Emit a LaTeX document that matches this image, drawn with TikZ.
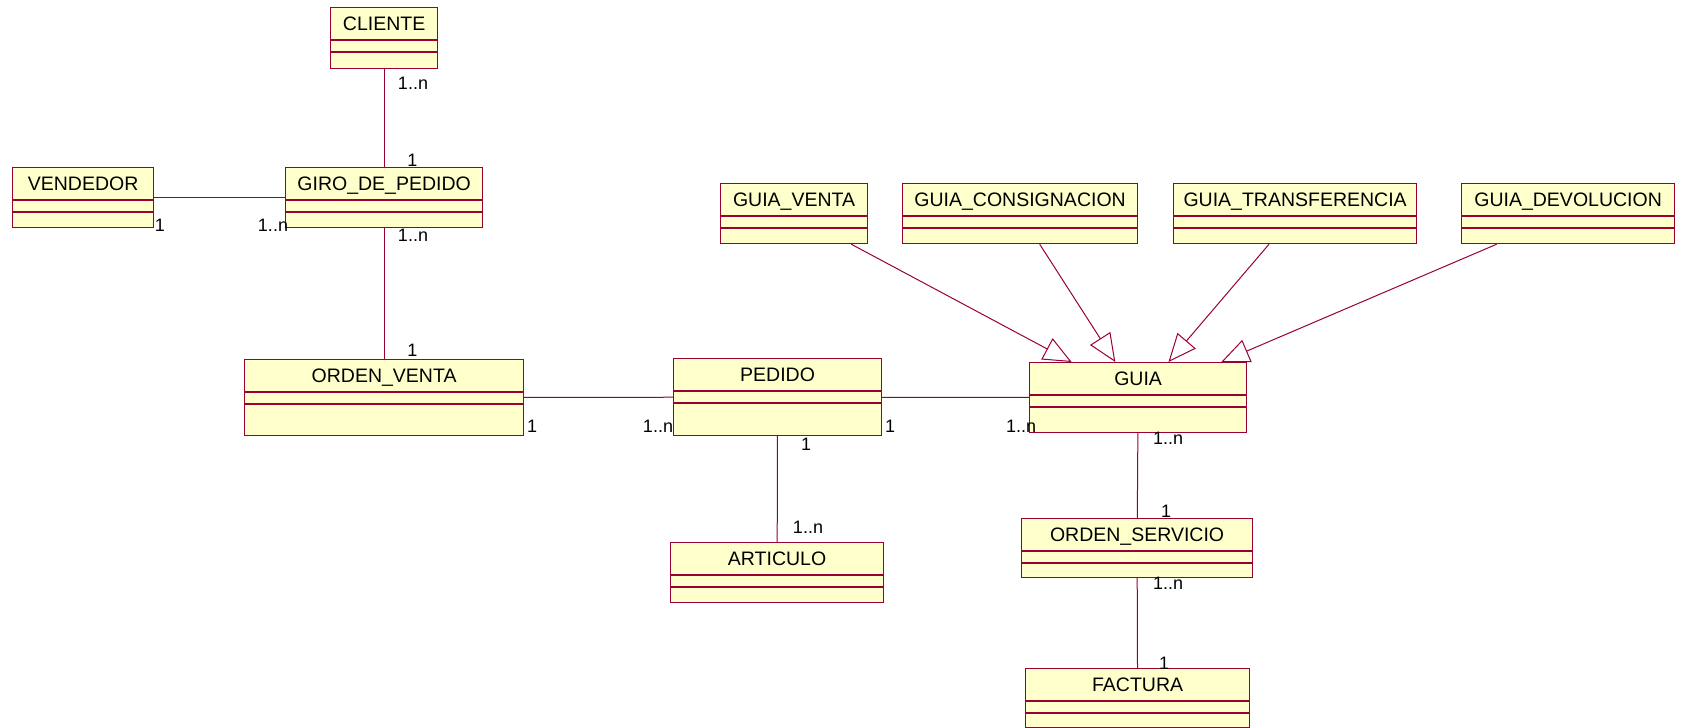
\documentclass[tikz,border=0pt]{standalone}
\usepackage{fontspec}
\setmainfont{Liberation Sans}
\usetikzlibrary{arrows.meta}

\definecolor{linea}{RGB}{153,0,51}
\definecolor{relleno}{RGB}{255,255,204}

\tikzset{
  caja/.style={draw=linea, fill=relleno, line width=1.2pt, inner sep=0pt},
  borde/.style={draw=linea, line width=1.2pt},
  titulo/.style={inner sep=0pt, text height=14pt, text depth=0pt, font=\fontsize{19.5}{23}\selectfont},
  mult/.style={inner sep=0pt, text height=13pt, text depth=0pt, font=\fontsize{18}{21}\selectfont},
  asoc/.style={draw=linea, line width=1pt},
  hereda/.style={draw=linea, line width=1pt, -{Triangle[open, length=28pt, width=24pt]}}
}

% clase UML: nombre, x, y, ancho, alto, titulo
\newcommand{\clase}[6]{%
  \node[caja, minimum width=#4pt, minimum height=#5pt, anchor=north west] (#1) at (#2,#3) {};
  \node[titulo] (#1-nom) at ([yshift=-16.5pt]#1.north) {#6};
  \draw[borde] ([yshift=-33pt]#1.north west) -- ([yshift=-33pt]#1.north east)
               ([yshift=-45pt]#1.north west) -- ([yshift=-45pt]#1.north east);
}

\begin{document}
\begin{tikzpicture}[x=1pt, y=-1pt]
  \useasboundingbox (0,0) rectangle (1689,728);
  \clase{cliente}{330}{7}{107}{61}{CLIENTE}
  \clase{vendedor}{12}{167}{141}{60}{VENDEDOR}
  \clase{giro}{285}{167}{197}{60}{GIRO\_DE\_PEDIDO}
  \clase{ordenventa}{244}{359}{279}{76}{ORDEN\_VENTA}
  \clase{pedido}{673}{358}{208}{77}{PEDIDO}
  \clase{articulo}{670}{542}{213}{60}{ARTICULO}
  \clase{guia}{1029}{362}{217}{70}{GUIA}
  \clase{gventa}{720}{183}{147}{60}{GUIA\_VENTA}
  \clase{gconsig}{902}{183}{235}{60}{GUIA\_CONSIGNACION}
  \clase{gtransf}{1173}{183}{243}{60}{GUIA\_TRANSFERENCIA}
  \clase{gdevol}{1461}{183}{213}{60}{GUIA\_DEVOLUCION}
  \clase{ordenserv}{1021}{518}{231}{59}{ORDEN\_SERVICIO}
  \clase{factura}{1025}{668}{224}{59}{FACTURA}

  % asociaciones
  \draw[asoc] (cliente) -- (giro);
  \draw[asoc] (vendedor) -- (giro);
  \draw[asoc] (giro) -- (ordenventa);
  \draw[asoc] (ordenventa) -- (pedido);
  \draw[asoc] (pedido) -- (guia);
  \draw[asoc] (pedido) -- (articulo);
  \draw[asoc] (guia) -- (ordenserv);
  \draw[asoc] (ordenserv) -- (factura);

  % herencia
  \draw[hereda] (gventa) -- (guia);
  \draw[hereda] (gconsig) -- (guia);
  \draw[hereda] (gtransf) -- (guia);
  \draw[hereda] (gdevol) -- (guia);

  % multiplicidades
  \node[mult] (m1) at (413,83) {1..n};
  \node[mult] (m2) at (412.5,160) {1};
  \node[mult] (m3) at (160,225) {1};
  \node[mult] (m4) at (273,225) {1..n};
  \node[mult] (m5) at (413,235) {1..n};
  \node[mult] (m6) at (412.5,350) {1};
  \node[mult] (m7) at (532,426) {1};
  \node[mult] (m8) at (658,426) {1..n};
  \node[mult] (m9) at (890,426) {1};
  \node[mult] (m10) at (1021,426) {1..n};
  \node[mult] (m11) at (806,444) {1};
  \node[mult] (m12) at (808,527) {1..n};
  \node[mult] (m13) at (1168,438) {1..n};
  \node[mult] (m14) at (1166,511) {1};
  \node[mult] (m15) at (1168,583) {1..n};
  \node[mult] (m16) at (1164,663) {1};
\end{tikzpicture}
\end{document}
